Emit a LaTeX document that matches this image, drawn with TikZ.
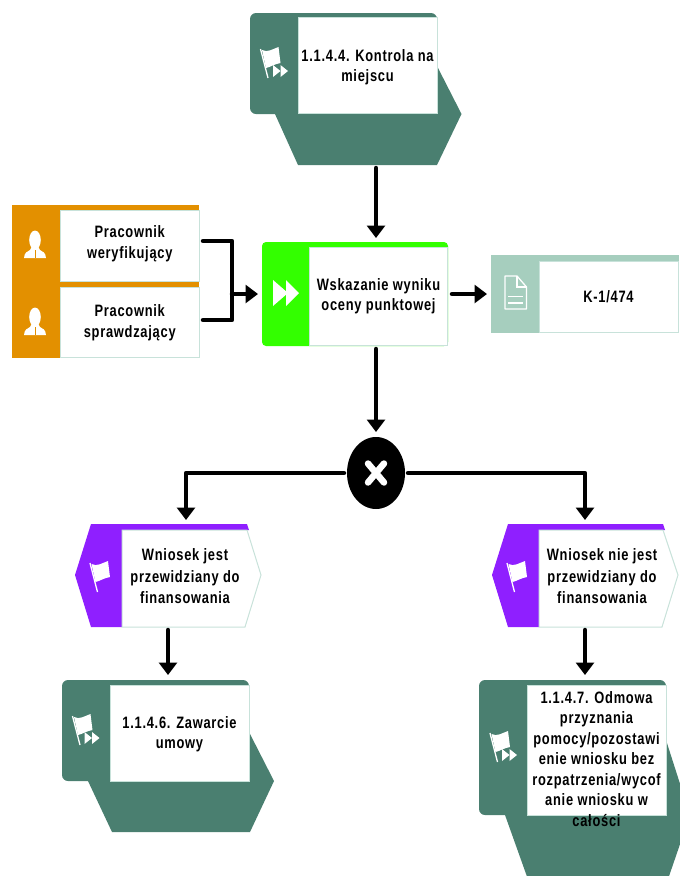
\documentclass[tikz,border=0pt]{standalone}
\usepackage{fontspec}
\setmainfont{Liberation Sans}[BoldFont={Liberation Sans Bold},FakeStretch=0.78,LetterSpace=4.5]
\usetikzlibrary{arrows.meta,calc,shapes.geometric}
\definecolor{teal}{HTML}{4A7F70}
\definecolor{orng}{HTML}{E39000}
\definecolor{grn}{HTML}{33FF00}
\definecolor{purp}{HTML}{8F1FFF}
\definecolor{docg}{HTML}{A6CEBE}
\definecolor{edge}{HTML}{C8E2DA}
\tikzset{
  txt/.style={inner sep=0pt,align=center,font=\fontsize{16.5}{20.5}\selectfont\bfseries,text=black},
  textbox/.style={txt,fill=white,draw=edge,line width=1pt},
  frame/.style={inner sep=0pt,outer sep=0pt},
  conn/.style={line width=4.5pt,draw=black,line cap=round,line join=round},
  tipped/.style={conn,-{Triangle[width=18pt,length=12.5pt]}},
  ico/.style={fill=white,draw=none},
  icoline/.style={draw=white,line width=1.3pt},
}
\newcommand{\flagicon}[2]{%
  \begin{scope}[shift={(#1,#2)}]
    \draw[icoline] (0,0) -- (7.5,29);
    \fill[ico] (1.5,1) .. controls (7,4) and (12,0) .. (18,-2) -- (20,14) .. controls (14,15) and (10,18) .. (5.5,19) -- cycle;
  \end{scope}}
\newcommand{\ffsmall}[2]{%
  \begin{scope}[shift={(#1,#2)}]
    \fill[ico] (0,0) -- (0,12) -- (7.5,6) -- cycle;
    \fill[ico] (7.5,0) -- (7.5,12) -- (15,6) -- cycle;
  \end{scope}}
\newcommand{\personicon}[2]{%
  \begin{scope}[shift={(#1,#2)}]
    \fill[ico] (0,0) ellipse (5.8 and 9.5);
    \fill[ico] (-3.5,7) -- (3.5,7) -- (5,10) .. controls (8,11.5) and (10.5,12.5) .. (11,18) -- (-11,18) .. controls (-10.5,12.5) and (-8,11.5) .. (-5,10) -- cycle;
    \draw[orng,line width=0.8pt] (0,10) -- (0,18);
  \end{scope}}
\newcommand{\procshape}[4]{%
  \fill[teal,rounded corners=6pt] (#1,#2) -- (#3,#2) -- (#3,#4) -- (#1,#4) -- cycle;
}
\begin{document}
\begin{tikzpicture}[x=1pt,y=-1pt]
\useasboundingbox (0,0) rectangle (680,876);
\clip (0,0) rectangle (680,876);

% ---- top process interface
\procshape{250}{13}{437}{114}
\fill[teal] (275,110) -- (437,66) -- (461.5,114) -- (437,165) -- (298,165) -- (275,114) -- cycle;
\node[frame,minimum width=211.5pt,minimum height=152pt] (top) at (355.75,89) {};
\node[textbox,minimum width=139pt,minimum height=96pt] (topt) at (367.5,65.5) {};
\node[txt] (toptx) at (367.5,67) {1.1.4.4. Kontrola na\\miejscu};
\flagicon{260.5}{49}
\ffsmall{273}{65}

% ---- roles
\fill[orng] (12,205) rectangle (199,210);
\fill[orng] (12,205) rectangle (60,358);
\node[textbox,minimum width=138.5pt,minimum height=71pt] (ver) at (129.75,246) {};
\node[txt] (vertx) at (129.75,243.5) {Pracownik\\weryfikujący};
\fill[orng] (60,282) rectangle (199,287);
\node[textbox,minimum width=138.5pt,minimum height=70.5pt] (spr) at (129.75,322.5) {Pracownik\\sprawdzający};
\personicon{35}{240}
\personicon{35}{317}

% ---- main function
\fill[grn,rounded corners=4pt] (262,242) rectangle (448,346);
\fill[grn] (300,247) rectangle (309,346);
\node[frame,minimum width=186pt,minimum height=104pt] (actf) at (355,294) {};
\node[textbox,minimum width=138.5pt,minimum height=98pt] (act) at (378.5,296) {Wskazanie wyniku\\oceny punktowej};
\fill[ico] (273,280) -- (273,306) -- (288,293) -- cycle;
\fill[ico] (286,280) -- (286,306) -- (299,293) -- cycle;

% ---- document
\fill[docg] (491,255) rectangle (679,333);
\node[frame,minimum width=188pt,minimum height=78pt] (docf) at (585,294) {};
\node[textbox,minimum width=139pt,minimum height=71pt] (doc) at (608.5,296.5) {K-1/474};
\draw[icoline,line join=round] (505,276) -- (517,276) -- (526.5,287) -- (526.5,309) -- (505,309) -- cycle;
\draw[icoline] (517,276) -- (517,287) -- (526.5,287);
\draw[icoline] (508,296.5) -- (523,296.5) (508,303) -- (523,303);

% ---- gateway
\node[frame,fill=black,ellipse,minimum width=58pt,minimum height=72pt] (gate) at (376,473) {};
\draw[white,line width=6.5pt,line cap=round] (368,463.5) -- (384,482.5) (384,463.5) -- (368,482.5);

% ---- left event
\fill[purp] (91,524) -- (247,524) -- (249,530) -- (122,530) -- (122,627) -- (91,627) -- (75,575) -- cycle;
\path[fill=white,draw=edge,line width=1pt] (122,530) -- (247,530) -- (261,575) -- (245,627) -- (122,627) -- cycle;
\node[frame,minimum width=186pt,minimum height=103pt] (evlf) at (168,575.5) {};
\node[txt,font=\fontsize{16.5}{21.5}\selectfont\bfseries] (evl) at (185,576.5) {Wniosek jest\\przewidziany do\\finansowania};
\flagicon{90}{563}

% ---- right event
\fill[purp] (508,524) -- (663,524) -- (665,530) -- (539,530) -- (539,627) -- (508,627) -- (492,575) -- cycle;
\path[fill=white,draw=edge,line width=1pt] (539,530) -- (663,530) -- (678,575) -- (662,627) -- (539,627) -- cycle;
\node[frame,minimum width=186pt,minimum height=103pt] (evrf) at (585,575.5) {};
\node[txt,font=\fontsize{16.5}{21.5}\selectfont\bfseries] (evr) at (602,576.5) {Wniosek nie jest\\przewidziany do\\finansowania};
\flagicon{507}{563}

% ---- lower left process interface
\procshape{62}{680}{249}{781}
\fill[teal] (88,775) -- (249,732) -- (274,781) -- (250,832) -- (112,832) -- (88,781) -- cycle;
\node[frame,minimum width=212pt,minimum height=152pt] (pl) at (168,756) {};
\node[textbox,minimum width=139pt,minimum height=96pt] (plt) at (179.5,733) {};
\node[txt] (pltx) at (179.5,734) {1.1.4.6. Zawarcie\\umowy};
\flagicon{72.5}{716}
\ffsmall{84.5}{732}

% ---- lower right process interface
\procshape{479}{680}{666}{815}
\fill[teal] (505,800) -- (666,740) -- (690,815) -- (666,885) -- (530,885) -- (505,815) -- cycle;
\node[frame,minimum width=212pt,minimum height=196pt] (pr) at (585,778) {};
\node[textbox,minimum width=139pt,minimum height=130pt] (prt) at (596.5,750) {};
\node[txt] (prl) at (596.5,759) {1.1.4.7. Odmowa\\przyznania\\pomocy/pozostawi\\enie wniosku bez\\rozpatrzenia/wycof\\anie wniosku w\\całości};
\flagicon{490}{733}
\ffsmall{502}{749}

% ---- connectors
\coordinate (ja) at (232,241);
\coordinate (jb) at (232,320);
\coordinate (jm) at (232,294);
\draw[tipped,shorten <=3pt,shorten >=4pt] ([xshift=20.25pt]top.south) -- ([xshift=21pt]actf.north);
\draw[conn] ([xshift=3.5pt,yshift=5pt]ver.east) -- (ja) -- (jb) -- ([xshift=3.5pt,yshift=2.5pt]spr.east);
\draw[tipped,shorten >=4pt] (jm) -- (actf.west);
\draw[tipped,shorten <=4pt,shorten >=4pt] (actf.east) -- (docf.west);
\draw[tipped,shorten <=3pt,shorten >=5pt] ([xshift=21pt]actf.south) -- (gate.north);
\draw[tipped,shorten <=3pt,shorten >=4pt] (gate.west) -| ([xshift=18pt]evlf.north);
\draw[tipped,shorten <=3pt,shorten >=4pt] (gate.east) -| (evrf.north);
\draw[tipped,shorten <=3pt,shorten >=5pt] (evlf.south) -- (pl.north);
\draw[tipped,shorten <=3pt,shorten >=5pt] (evrf.south) -- (pr.north);
\end{tikzpicture}
\end{document}
